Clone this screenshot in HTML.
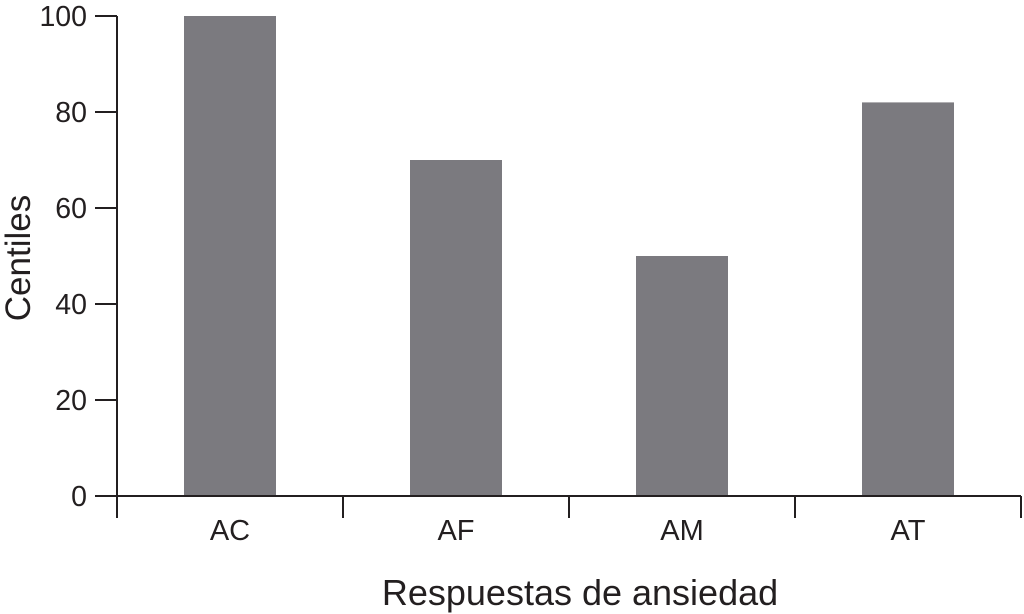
<!DOCTYPE html>
<html><head><meta charset="utf-8"><style>
html,body{margin:0;padding:0;background:#fff;}
svg{display:block;font-family:"Liberation Sans",Arial,sans-serif;}
</style></head><body>
<svg id="chart" width="1024" height="614" viewBox="0 0 1024 614">
<g id="bars"></g>
<g id="axes"></g>
<text x="0" y="0" transform="translate(30,258) rotate(-90)" text-anchor="middle" font-size="35" fill="#231f20">Centiles</text>
<text x="580" y="605" text-anchor="middle" font-size="36" fill="#231f20">Respuestas de ansiedad</text>
</svg>
<script>
const categories = ["AC","AF","AM","AT"];
const values = [100, 70, 50, 82];
const yTicks = [0,20,40,60,80,100];

const NS="http://www.w3.org/2000/svg";
const x0=117, x1=1021, y0=496, yTop=16;
const yScale=v=>y0-(v/100)*(y0-yTop);
const band=(x1-x0)/categories.length;
const xCenter=i=>x0+band*(i+0.5);
const barW=92;
const bars=document.getElementById('bars'), axes=document.getElementById('axes');
function mk(tag,attrs,parent){const e=document.createElementNS(NS,tag);for(const k in attrs)e.setAttribute(k,attrs[k]);parent.appendChild(e);return e;}
values.forEach((v,i)=>{
  const r=mk('rect',{x:xCenter(i)-barW/2,y:yScale(v),width:barW,height:y0-yScale(v),fill:'#7b7a7f'},bars);
  
  
  const t=mk('text',{x:xCenter(i),y:540,'text-anchor':'middle','font-size':29,fill:'#231f20'},axes);
  t.textContent=categories[i];
  
  
});
const yl=mk('line',{x1:x0,y1:yTop,x2:x0,y2:518,stroke:'#231f20','stroke-width':2},axes);


const xl=mk('line',{x1:x0,y1:y0,x2:x1,y2:y0,stroke:'#231f20','stroke-width':2},axes);


for(let i=0;i<=categories.length;i++){
  const xx=x0+band*i;
  const l=mk('line',{x1:xx,y1:y0,x2:xx,y2:518,stroke:'#231f20','stroke-width':2},axes);
  
  
}
yTicks.forEach(v=>{
  const y=yScale(v);
  const l=mk('line',{x1:95,y1:y,x2:x0,y2:y,stroke:'#231f20','stroke-width':2},axes);
  
  
  const t=mk('text',{x:87,y:y+10,'text-anchor':'end','font-size':28.5,fill:'#231f20'},axes);
  t.textContent=v;
  
  
});
</script>
</body></html>
